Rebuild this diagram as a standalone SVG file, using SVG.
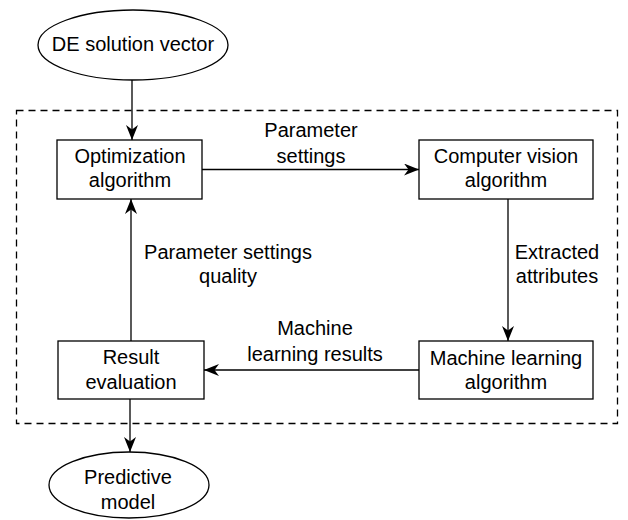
<svg xmlns="http://www.w3.org/2000/svg" width="628" height="520" viewBox="0 0 628 520">
  <style>
    .shape { fill: #ffffff; stroke: #000000; stroke-width: 1.3; }
    .frame { fill: none; stroke: #000000; stroke-width: 1.3; stroke-dasharray: 7 5; }
    .edge { fill: none; stroke: #000000; stroke-width: 1.3; }
    text { font-family: "Liberation Sans", Arial, sans-serif; font-size: 20px; fill: #000000; text-anchor: middle; }
  </style>
  <defs>
    <marker id="arrow" markerUnits="userSpaceOnUse" markerWidth="16" markerHeight="12" viewBox="-15 -6 16 12" refX="0" refY="0" orient="auto">
      <path d="M0,0 L-15,-6 L-10.5,0 L-15,6 Z" fill="#000000"/>
    </marker>
  </defs>

  <!-- dashed boundary around the processing loop -->
  <rect class="frame" x="16.5" y="110.5" width="601" height="313"/>

  <g id="connectors">
    <line class="edge" x1="132" y1="80" x2="132" y2="140" marker-end="url(#arrow)"/>
    <line class="edge" x1="202" y1="169.5" x2="419" y2="169.5" marker-end="url(#arrow)"/>
    <line class="edge" x1="508" y1="199" x2="508" y2="341" marker-end="url(#arrow)"/>
    <line class="edge" x1="419" y1="370" x2="204" y2="370" marker-end="url(#arrow)"/>
    <line class="edge" x1="131" y1="341" x2="131" y2="199" marker-end="url(#arrow)"/>
    <line class="edge" x1="130" y1="399" x2="130" y2="452" marker-end="url(#arrow)"/>
    <text x="311" y="137">Parameter</text>
    <text x="311" y="163">settings</text>
    <text x="557" y="259">Extracted</text>
    <text x="557" y="283">attributes</text>
    <text x="315" y="335">Machine</text>
    <text x="315" y="361">learning results</text>
    <text x="228" y="259">Parameter settings</text>
    <text x="228" y="283">quality</text>
  </g>

  <g id="de-solution-vector">
    <ellipse class="shape" cx="133" cy="45" rx="95" ry="35"/>
    <text x="133" y="51">DE solution vector</text>
  </g>

  <g id="optimization-algorithm">
    <rect class="shape" x="57" y="140" width="145" height="59"/>
    <text x="130" y="163">Optimization</text>
    <text x="130" y="187">algorithm</text>
  </g>

  <g id="computer-vision-algorithm">
    <rect class="shape" x="419" y="140" width="174" height="59"/>
    <text x="506" y="163">Computer vision</text>
    <text x="506" y="187">algorithm</text>
  </g>

  <g id="machine-learning-algorithm">
    <rect class="shape" x="419" y="341" width="174" height="58"/>
    <text x="506" y="365">Machine learning</text>
    <text x="506" y="389">algorithm</text>
  </g>

  <g id="result-evaluation">
    <rect class="shape" x="58" y="341" width="146" height="58"/>
    <text x="131" y="364">Result</text>
    <text x="131" y="389">evaluation</text>
  </g>

  <g id="predictive-model">
    <ellipse class="shape" cx="129" cy="485" rx="80" ry="33"/>
    <text x="128" y="484">Predictive</text>
    <text x="128" y="509">model</text>
  </g>
</svg>
